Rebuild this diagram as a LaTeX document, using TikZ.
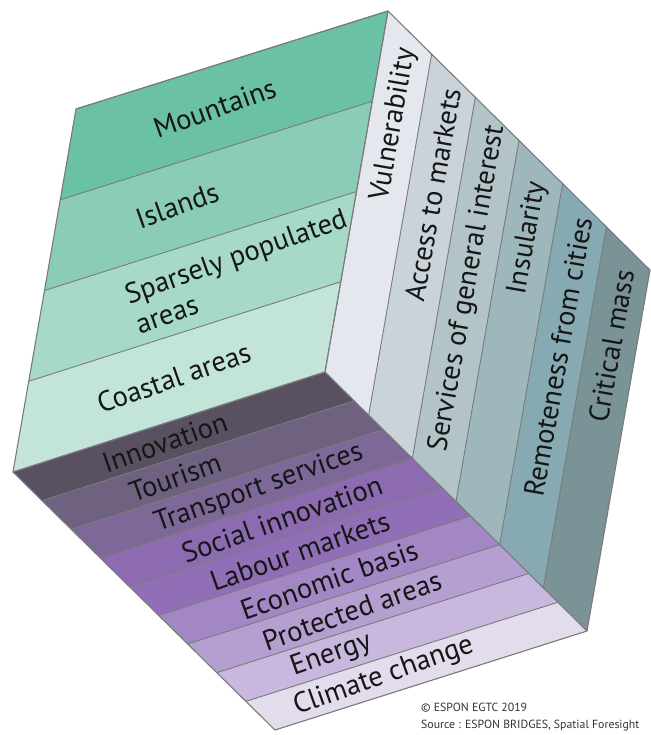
\documentclass[tikz,border=0pt]{standalone}
\usepackage{fontspec}
\setmainfont{PT Sans}
\usetikzlibrary{calc}
\definecolor{edgegray}{HTML}{7A7A7A}
\definecolor{labtext}{HTML}{161616}
\definecolor{g1}{HTML}{6AC1A6}
\definecolor{g2}{HTML}{8ACCB7}
\definecolor{g3}{HTML}{A6D9C7}
\definecolor{g4}{HTML}{C3E5D9}
\definecolor{c1}{HTML}{E4E7EE}
\definecolor{c2}{HTML}{CBD3DA}
\definecolor{c3}{HTML}{B3C4C9}
\definecolor{c4}{HTML}{9DB7BC}
\definecolor{c5}{HTML}{86A9B2}
\definecolor{c6}{HTML}{7A9397}
\definecolor{p1}{HTML}{595062}
\definecolor{p2}{HTML}{6F6180}
\definecolor{p3}{HTML}{7E6898}
\definecolor{p4}{HTML}{8C6BB0}
\definecolor{p5}{HTML}{916FB6}
\definecolor{p6}{HTML}{A386C4}
\definecolor{p7}{HTML}{B59ED0}
\definecolor{p8}{HTML}{C8B8DE}
\definecolor{p9}{HTML}{E2DCEC}
\begin{document}
\begin{tikzpicture}[x=1pt,y=-1pt,
  edge/.style={draw=edgegray, line width=1.1pt, line join=round},
  sep/.style={draw=edgegray, line width=0.9pt},
  lab/.style={font=\fontsize{28.5}{32}\selectfont, text=labtext, inner sep=0pt},
  greenlab/.style={lab, rotate=19.5},
  collab/.style={lab, rotate=80},
  purplab/.style={lab, rotate=19.5},
  credit/.style={font=\fontsize{11.8}{14}\selectfont, text=black!80, anchor=base west, inner sep=0pt}]
\useasboundingbox (0,0) rectangle (650,735);
% cube vertices
\coordinate (A) at (388,11);
\coordinate (B) at (76,109);
\coordinate (C) at (13,472);
\coordinate (D) at (325,372);
\coordinate (E) at (650,270);
\coordinate (F) at (587,631);
\coordinate (G) at (275,730);
% green face strips
\foreach \k/\col in {0/g1,1/g2,2/g3,3/g4} {
  \pgfmathsetmacro\ta{\k/4}
  \pgfmathsetmacro\tb{(\k+1)/4}
  \fill[\col] ($(B)!\ta!(C)$) -- ($(A)!\ta!(D)$) -- ($(A)!\tb!(D)$) -- ($(B)!\tb!(C)$) -- cycle;
  \draw[sep] ($(B)!\ta!(C)$) -- ($(A)!\ta!(D)$);
}
% right face columns
\foreach \k/\col in {0/c1,1/c2,2/c3,3/c4,4/c5,5/c6} {
  \pgfmathsetmacro\ta{\k/6}
  \pgfmathsetmacro\tb{(\k+1)/6}
  \fill[\col] ($(A)!\ta!(E)$) -- ($(A)!\tb!(E)$) -- ($(D)!\tb!(F)$) -- ($(D)!\ta!(F)$) -- cycle;
  \draw[sep] ($(A)!\ta!(E)$) -- ($(D)!\ta!(F)$);
}
% bottom face strips
\foreach \k/\col in {0/p1,1/p2,2/p3,3/p4,4/p5,5/p6,6/p7,7/p8,8/p9} {
  \pgfmathsetmacro\ta{\k/9}
  \pgfmathsetmacro\tb{(\k+1)/9}
  \fill[\col] ($(C)!\ta!(G)$) -- ($(D)!\ta!(F)$) -- ($(D)!\tb!(F)$) -- ($(C)!\tb!(G)$) -- cycle;
  \draw[sep] ($(C)!\ta!(G)$) -- ($(D)!\ta!(F)$);
}
% outline
\draw[edge] (A) -- (B) -- (C) -- (G) -- (F) -- (E) -- cycle;
\draw[edge] (A) -- (D) -- (C);
\draw[edge] (D) -- (F);
% green labels
\foreach \k in {0,1,2,3} {
  \pgfmathsetmacro\tm{(\k+0.5)/4}
  \coordinate (gl\k) at ($(B)!\tm!(C)$);
  \coordinate (gr\k) at ($(A)!\tm!(D)$);
}
\node[greenlab] (mountains) at ($(gl0)!0.47!(gr0)$) {Mountains};
\node[greenlab] (islands) at ($(gl1)!0.40!(gr1)$) {Islands};
\node[greenlab, align=left] (sparse) at ($(gl2)!0.655!(gr2)$) {Sparsely populated\\areas};
\node[greenlab] (coastal) at ($(gl3)!0.49!(gr3)$) {Coastal areas};
% right face labels
\foreach \k in {0,...,5} {
  \pgfmathsetmacro\tm{(\k+0.5)/6}
  \coordinate (rt\k) at ($(A)!\tm!(E)$);
  \coordinate (rb\k) at ($(D)!\tm!(F)$);
}
\node[collab] (vuln) at ($(rt0)!0.255!(rb0)$) {Vulnerability};
\node[collab] (access) at ($(rt1)!0.33!(rb1)$) {Access to markets};
\node[collab] (services) at ($(rt2)!0.47!(rb2)$) {Services of general interest};
\node[collab] (insular) at ($(rt3)!0.21!(rb3)$) {Insularity};
\node[collab] (remote) at ($(rt4)!0.42!(rb4)$) {Remoteness from cities};
\node[collab] (critical) at ($(rt5)!0.27!(rb5)$) {Critical mass};
% bottom face labels
\foreach \k in {0,...,8} {
  \pgfmathsetmacro\tm{(\k+0.5)/9}
  \coordinate (bl\k) at ($(C)!\tm!(G)$);
  \coordinate (br\k) at ($(D)!\tm!(F)$);
}
\node[purplab] (innov) at ($(bl0)!0.44!(br0)$) {Innovation};
\node[purplab] (tourism) at ($(bl1)!0.38!(br1)$) {Tourism};
\node[purplab] (transport) at ($(bl2)!0.555!(br2)$) {Transport services};
\node[purplab] (social) at ($(bl3)!0.535!(br3)$) {Social innovation};
\node[purplab] (labour) at ($(bl4)!0.50!(br4)$) {Labour markets};
\node[purplab] (econ) at ($(bl5)!0.50!(br5)$) {Economic basis};
\node[purplab] (protected) at ($(bl6)!0.48!(br6)$) {Protected areas};
\node[purplab] (energy) at ($(bl7)!0.32!(br7)$) {Energy};
\node[purplab] (climate) at ($(bl8)!0.395!(br8)$) {Climate change};
% credits
\node[credit] (copy) at (421,711) {© ESPON EGTC 2019};
\node[credit] (source) at (421,728) {Source : ESPON BRIDGES, Spatial Foresight};
\end{tikzpicture}
\end{document}
